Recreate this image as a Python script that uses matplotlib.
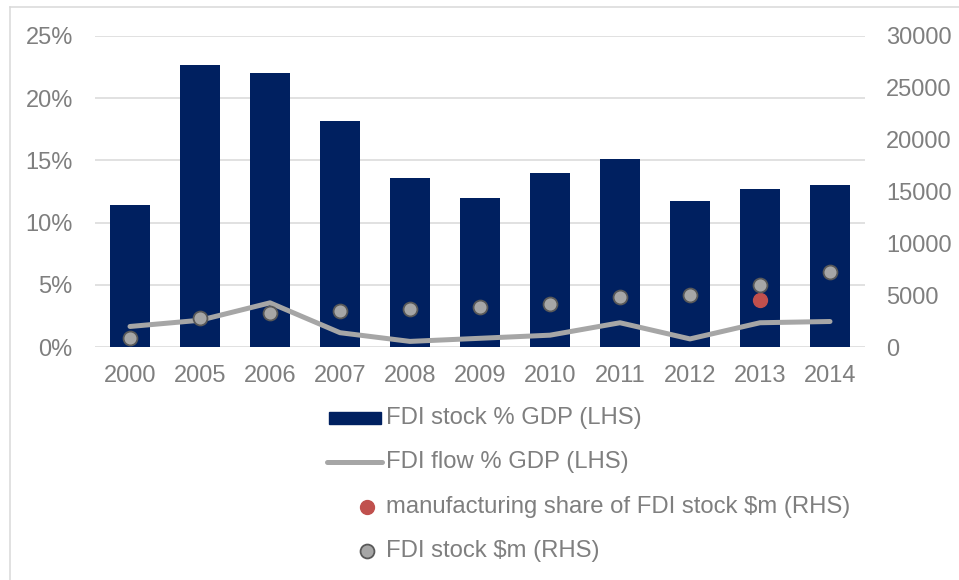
import matplotlib
matplotlib.use('Agg')
import matplotlib.pyplot as plt
from matplotlib.lines import Line2D
from matplotlib.patches import Rectangle
from matplotlib.ticker import FuncFormatter

plt.rcParams['font.family'] = ['Liberation Sans', 'DejaVu Sans']

# data
years = ['2000', '2005', '2006', '2007', '2008', '2009', '2010', '2011', '2012', '2013', '2014']
fdi_stock_pct = [11.4, 22.7, 22.0, 18.2, 13.6, 12.0, 14.0, 15.1, 11.75, 12.7, 13.0]
fdi_flow_pct = [1.65, 2.15, 3.55, 1.15, 0.45, 0.7, 0.95, 1.95, 0.65, 1.95, 2.05]
fdi_stock_usd = [900, 2770, 3310, 3500, 3630, 3890, 4150, 4790, 5020, 5980, 7200]
manuf_usd = [None, None, None, None, None, None, None, None, None, 4530, None]

labels = ['FDI stock % GDP (LHS)', 'FDI flow % GDP (LHS)',
          'manufacturing share of FDI stock $m (RHS)', 'FDI stock $m (RHS)']

navy = '#002060'
grey_line = '#A6A6A6'
txt = '#7F7F7F'
grid_c = '#D9D9D9'
fs = 17
fs_leg = 17.2

W, H = 959, 580
fig = plt.figure(figsize=(W / 100, H / 100), dpi=100)
ax = fig.add_axes([95 / W, 1 - 347 / H, 770 / W, 311 / H])
ax2 = ax.twinx()

x = list(range(len(years)))
ax.bar(x, fdi_stock_pct, width=0.57, color=navy, zorder=2)
ax.plot(x, fdi_flow_pct, color=grey_line, lw=3.6, solid_capstyle='round', zorder=3)

ax.set_xlim(-0.5, len(years) - 0.5)
ax.set_ylim(0, 25)
ax.set_yticks([0, 5, 10, 15, 20, 25])
ax.yaxis.set_major_formatter(FuncFormatter(lambda v, p: '%d%%' % v))
ax.set_xticks(x)
ax.set_xticklabels(years)
ax.grid(axis='y', color=grid_c, lw=1.1, zorder=0)
ax.set_axisbelow(True)

xs_m = [i for i, v in zip(x, manuf_usd) if v is not None]
ys_m = [v for v in manuf_usd if v is not None]
ax2.plot(xs_m, ys_m, ls='none', marker='o', ms=10, mfc='#C0504D', mec='#C0504D', zorder=4)
ax2.plot(x, fdi_stock_usd, ls='none', marker='o', ms=10, mfc='#A6A6A6', mec='#595959', mew=1.3, zorder=5)
ax2.set_ylim(0, 30000)
ax2.set_yticks([0, 5000, 10000, 15000, 20000, 25000, 30000])

for a in (ax, ax2):
    for s in a.spines.values():
        s.set_visible(False)
    a.tick_params(length=0, labelsize=fs, labelcolor=txt)
ax.tick_params(axis='y', pad=16)
ax.tick_params(axis='x', pad=13)
ax2.tick_params(axis='y', pad=15)

# legend drawn below, in figure pixels
def fx(px):
    return px / W

def fy(py):
    return 1 - py / H

fig.add_artist(Rectangle((fx(329), fy(424)), 52 / W, 12 / H, color=navy, transform=fig.transFigure))
fig.add_artist(Line2D([fx(327), fx(382)], [fy(462), fy(462)], color=grey_line, lw=3.6,
                      solid_capstyle='round', transform=fig.transFigure))
fig.add_artist(Line2D([fx(367)], [fy(507)], ls='none', marker='o', ms=10, mfc='#C0504D',
                      mec='#C0504D', transform=fig.transFigure))
fig.add_artist(Line2D([fx(367)], [fy(551)], ls='none', marker='o', ms=10, mfc='#A6A6A6',
                      mec='#595959', mew=1.3, transform=fig.transFigure))
for lab, ly in zip(labels, [418, 462, 507, 551]):
    fig.text(fx(386), fy(ly), lab, fontsize=fs_leg, color=txt, va='center', ha='left')

# chart frame
fig.add_artist(Line2D([fx(9.5), fx(9.5)], [fy(7), 0], color=grid_c, lw=1.1, transform=fig.transFigure))
fig.add_artist(Line2D([fx(9.5), 1], [fy(7), fy(7)], color=grid_c, lw=1.1, transform=fig.transFigure))

fig.savefig('out.png', dpi=100)
